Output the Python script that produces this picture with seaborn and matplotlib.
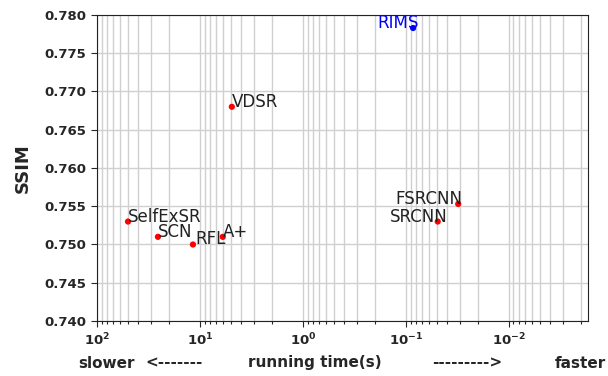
import matplotlib
matplotlib.use("Agg")
import matplotlib.pyplot as plt
import seaborn as sns
import pandas as pd
import numpy as np

methods = ["RIMS", "VDSR", "SelfExSR", "SCN", "RFL", "A+", "FSRCNN", "SRCNN"]
run_time = [0.085, 4.9, 50.0, 25.6, 11.7, 6.0, 0.031, 0.049]
ssim = [0.7783, 0.768, 0.753, 0.751, 0.750, 0.751, 0.7553, 0.753]
group = ["ours", "other", "other", "other", "other", "other", "other", "other"]

df = pd.DataFrame({"method": methods, "time": run_time, "ssim": ssim, "group": group})

sns.set_style("ticks")
plt.rcParams["font.family"] = ["DejaVu Sans"]

fig = plt.figure(figsize=(6.08, 3.76), dpi=100)
ax = fig.add_axes([97/608, 1-321/376, (588-97)/608, (321-15)/376])

sns.scatterplot(data=df, x="time", y="ssim", hue="group",
                palette={"ours": "blue", "other": "red"},
                s=20, edgecolor="none", legend=False, ax=ax, zorder=3)

ax.set_xscale("log")
ax.set_xlim(100, 0.0017)
ax.set_ylim(0.740, 0.780)
ax.set_yticks(np.arange(0.740, 0.7801, 0.005))
ax.yaxis.set_major_formatter(matplotlib.ticker.FormatStrFormatter("%.3f"))
ax.grid(which="both", axis="x", color="#d0d0d0", linewidth=1)
ax.grid(which="major", axis="y", color="#d0d0d0", linewidth=1)
ax.set_axisbelow(True)
for sp in ax.spines.values():
    sp.set_visible(True)
    sp.set_color("#222222")
ax.tick_params(axis="both", which="major", labelsize=9.5, direction="out", length=4)
ax.tick_params(axis="x", which="minor", direction="out", length=2, bottom=True, width=0.8)
for lbl in ax.get_xticklabels() + ax.get_yticklabels():
    lbl.set_fontweight("bold")
ax.set_xlabel("")
ax.set_ylabel("SSIM", fontsize=13, fontweight="bold", labelpad=9)

offsets = {"RIMS": (4, "right"), "FSRCNN": (3, "right"), "SRCNN": (7, "right"),
           "RFL": (1.5, "left")}
for m, t, s, g in zip(methods, run_time, ssim, group):
    col = "blue" if g == "ours" else "#222222"
    dx, ha = offsets.get(m, (0, "left"))
    ax.annotate(m, (t, s), xytext=(dx, 0), textcoords="offset points",
                ha=ha, va="baseline", fontsize=12, color=col)

yl = 1 - 363/376
fig.text(78/608, yl, "slower", fontsize=11, fontweight="bold", ha="left", va="center")
fig.text(145/608, yl, "<-------", fontsize=11, fontweight="bold", ha="left", va="center")
fig.text(248/608, yl, "running time(s)", fontsize=11, fontweight="bold", ha="left", va="center")
fig.text(432/608, yl, "--------->", fontsize=11, fontweight="bold", ha="left", va="center")
fig.text(555/608, yl, "faster", fontsize=11, fontweight="bold", ha="left", va="center")

fig.savefig("out.png", dpi=100)
